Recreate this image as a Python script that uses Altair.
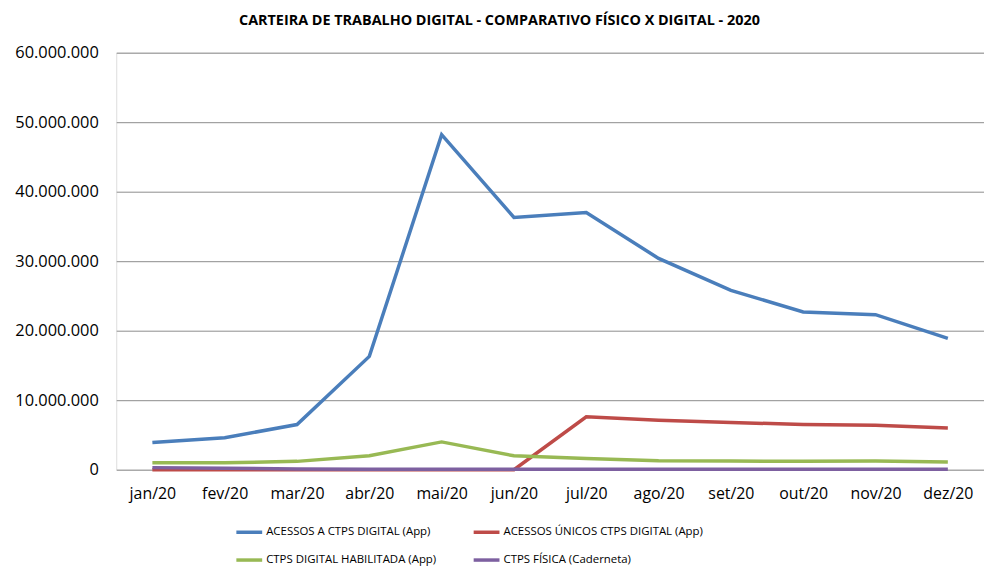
import altair as alt
import pandas as pd

months = ["jan/20", "fev/20", "mar/20", "abr/20", "mai/20", "jun/20",
          "jul/20", "ago/20", "set/20", "out/20", "nov/20", "dez/20"]

series_names = ["ACESSOS A CTPS DIGITAL (App)", "ACESSOS ÚNICOS CTPS DIGITAL (App)",
                "CTPS DIGITAL HABILITADA (App)", "CTPS FÍSICA (Caderneta)"]

acessos = [3900000, 4600000, 6500000, 16300000, 48200000, 36300000,
           37000000, 30400000, 25800000, 22700000, 22300000, 18900000]
unicos = [0, 0, 0, 0, 0, 0,
          7600000, 7100000, 6800000, 6500000, 6400000, 6000000]
habilitada = [1000000, 1000000, 1200000, 2000000, 4000000, 2000000,
              1600000, 1300000, 1250000, 1200000, 1250000, 1100000]
fisica = [300000, 200000, 100000, 60000, 50000, 50000,
          50000, 50000, 50000, 50000, 50000, 50000]

colors = ["#4A7EBB", "#BE4B48", "#98B954", "#7D60A0"]

rows = []
for name, vals in zip(series_names, [acessos, unicos, habilitada, fisica]):
    for m, v in zip(months, vals):
        rows.append({"mes": m, "serie": name, "valor": v})
df = pd.DataFrame(rows)

FONT = "Open Sans"

chart = alt.Chart(df).mark_line(strokeWidth=3.5).encode(
    x=alt.X("mes:N", sort=months, title=None,
            scale=alt.Scale(type="point", padding=0.5),
            axis=alt.Axis(labelAngle=0, labelFontSize=16, labelColor="#000000",
                          domain=False, ticks=False, grid=False, labelPadding=16,
                          labelFont=FONT)),
    y=alt.Y("valor:Q", title=None,
            scale=alt.Scale(domain=[0, 60000000], nice=False),
            axis=alt.Axis(values=[0, 10000000, 20000000, 30000000, 40000000, 50000000, 60000000],
                          labelExpr="replace(format(datum.value, ',d'), /,/g, '.')",
                          labelFontSize=16.5, labelColor="#000000", labelFont=FONT,
                          domain=False, ticks=False,
                          gridColor="#8c8c8c", gridWidth=1, labelPadding=18)),
    color=alt.Color("serie:N", sort=series_names,
                    scale=alt.Scale(domain=series_names, range=colors),
                    legend=alt.Legend(title=None, orient="none", legendX=119, legendY=468,
                                      direction="horizontal",
                                      columns=2, symbolType="stroke", symbolStrokeWidth=3.5,
                                      symbolSize=676, labelFontSize=11.5, labelFont=FONT,
                                      labelColor="#000000", columnPadding=30, rowPadding=6,
                                      labelOffset=2, labelLimit=300)),
    order=alt.Order("serie:N")
).properties(
    width=874, height=420,
    title=alt.TitleParams("CARTEIRA DE TRABALHO DIGITAL  - COMPARATIVO FÍSICO X DIGITAL - 2020",
                          fontSize=14.5, fontWeight="bold", font=FONT, color="#000000",
                          anchor="middle", frame="bounds", offset=16)
).configure_view(stroke=None).configure(padding={"left": 6, "top": 3, "right": 0, "bottom": 0})

chart.save("out.html", embed_options={"renderer": "svg", "actions": False})
